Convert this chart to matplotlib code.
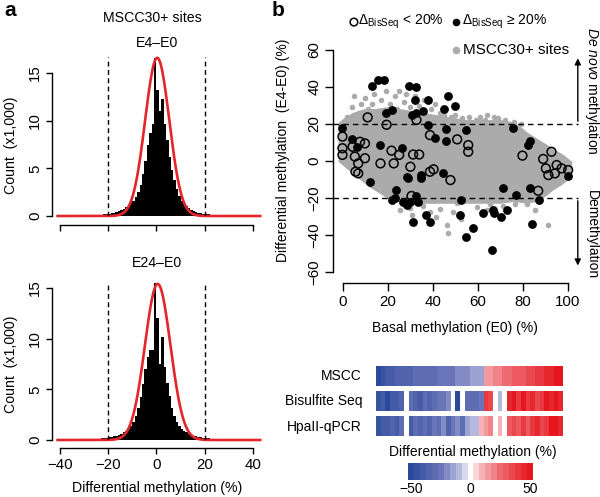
import numpy as np
import matplotlib
matplotlib.use("Agg")
import matplotlib.pyplot as plt
from matplotlib.colors import LinearSegmentedColormap, BoundaryNorm

plt.rcParams['font.family'] = ['Liberation Sans', 'DejaVu Sans']
plt.rcParams['mathtext.fontset'] = 'custom'
plt.rcParams['mathtext.rm'] = 'Liberation Sans'
plt.rcParams['mathtext.it'] = 'Liberation Sans:italic'
plt.rcParams['mathtext.bf'] = 'Liberation Sans:bold'

# ---------------- data ----------------
hist_edges = list(range(-30, 31))
# E4-E0 counts (x1,000) for bins [-30,-29) ... [29,30)
hist_e4 = [0.05, 0.05, 0.06, 0.07, 0.08, 0.10, 0.12, 0.14, 0.17, 0.20,
           0.25, 0.30, 0.35, 0.42, 0.50, 0.60, 0.72, 0.90, 1.10, 1.35,
           1.60, 2.00, 2.50, 3.30, 4.40, 5.80, 7.40, 8.70, 9.60, 16.6,
           13.2, 11.0, 12.3, 9.6, 8.0, 6.2, 4.8, 3.8, 2.8, 2.1,
           1.60, 1.25, 1.00, 0.80, 0.65, 0.52, 0.42, 0.35, 0.30, 0.25,
           0.20, 0.17, 0.14, 0.12, 0.10, 0.08, 0.07, 0.06, 0.05, 0.05]
hist_e24 = [0.05, 0.06, 0.07, 0.08, 0.09, 0.11, 0.13, 0.15, 0.18, 0.21,
            0.25, 0.30, 0.36, 0.43, 0.52, 0.62, 0.75, 0.90, 1.10, 1.40,
            1.80, 2.40, 3.20, 4.20, 5.50, 7.00, 8.20, 8.90, 8.90, 15.5,
            12.0, 7.5, 10.2, 7.2, 5.6, 4.3, 3.2, 2.4, 1.8, 1.4,
            1.10, 0.90, 0.75, 0.60, 0.50, 0.42, 0.35, 0.30, 0.25, 0.21,
            0.18, 0.15, 0.13, 0.11, 0.09, 0.08, 0.07, 0.06, 0.05, 0.05]
# normal fits (mean, sd, peak in x1,000)
fit_e4 = (0.3, 5.0, 16.6)
fit_e24 = (0.5, 5.3, 15.4)

# scatter: gray dense cloud outline (basal, diff)
cloud_x = [-1, 2, 5, 10, 15, 20, 25, 30, 35, 40, 45, 50, 55, 60, 65, 70, 75, 78, 82, 86, 90, 94, 98, 101,
           101, 100, 97, 93, 90, 86, 82, 76, 70, 60, 50, 40, 30, 24, 20, 16, 12, 8, 4, 1, -1]
cloud_y = [20, 23, 25, 27, 27, 28, 27, 26, 25, 24, 23, 22, 21, 21, 21, 21, 20, 18, 14, 11, 8, 5, 2, -1,
           -4, -9, -12, -15, -18, -21, -22, -21, -22, -22, -22, -22, -22, -21, -19, -16, -13, -9, -5, -2, 0]
gray_x = [2, 4, 5, 7, 8, 10, 11, 13, 14, 16, 17, 19, 21, 23, 24, 25, 27, 28, 30, 32, 34, 36, 39, 41, 43, 45,
          48, 50, 53, 56, 59, 63, 67, 69, 72, 76, 79, 61, 64,
          46.1, 46.8, 43.1, 49.0, 52.7, 59.4, 63.9, 65.3, 71.2, 76.4, 81.6, 85.3, 91.3, 25.3, 27.6, 29.8,
          30.5, 35.7, 38.7, 41.3, 32.0, 50.5]
gray_y = [24, 29, 35, 26, 31, 34, 28, 31, 36, 27, 33, 38, 31, 35, 28, 38, 32, 36, 29, 35, 30, 33, 28, 31, 26, 25,
          24, 25, 23, 24, 22, 22, 24, 23, 22, 21, 20, 24, 25,
          -34.6, -38.7, -26.1, -27.5, -31.4, -25.1, -26.4, -23.3, -24.5, -23.3, -23.3, -26.4, -34.5, -26.4,
          -23.6, -25.4, -29.0, -24.3, -27.3, -30.0, -22.0, -22.7]
open_x = [-0.2, -0.2, -0.2, 4.3, 5.3, 5.6, 6.8, 7.6, 9.8, 6.8, 9.8, 16.7, 21.6, 22.6, 25.0, 30.0, 31.2, 33.9,
          30.5, 38.7, 40.3, 38.7, 47.8, 50.8, 55.7, 55.7, 79.8, 89.0, 90.2, 91.3, 92.7, 95.0, 97.2, 94.2,
          100.1, 86.8, 19.4, 11.0, 32.7]
open_y = [13.2, 6.9, 3.3, 7.7, 2.4, -5.8, -6.7, 10.4, 9.5, -1.3, 1.5, -1.3, 5.6, -1.3, 3.3, -3.1, 3.5, 3.5,
          -18.9, -5.8, -4.5, 14.0, -10.3, 11.7, 8.6, 5.0, 2.9, 1.1, -4.0, -7.6, 5.0, -2.2, -4.0, -6.7,
          -4.9, -16.1, 19.6, 23.6, 22.2]
black_x = [-0.2, 4.0, 6.1, 12.0, 16.7, 26.1, 23.6, 21.6, 23.1, 26.8, 28.3, 29.0, 28.5, 29.8, 32.7, 33.5,
           34.9, 34.7, 31.3, 36.9, 38.7, 38.0, 40.9, 44.6, 45.8, 45.8, 54.9, 52.3, 52.0, 54.7, 58.0, 62.1,
           66.9, 67.1, 66.1, 70.1, 71.3, 73.0, 75.4, 76.9, 82.4, 83.1, 83.1, 83.9, 87.2, 100.1,
           12.9, 15.4, 18.4, 19.0, 21.6, 29.3, 32.7, 31.9, 30.7, 32.7, 35.4, 37.9, 45.0, 46.5, 50.0]
black_y = [17.7, 11.9, 7.8, -11.5, 8.6, 6.8, -15.7, -21.1, -20.2, -22.0, -8.5, -9.4, -23.8, -22.0, -18.9, -22.0,
           -7.6, -9.4, -32.8, -29.2, -32.8, 19.5, 12.3, -6.3, 17.1, 11.0, 16.8, -21.1, -29.2, -40.9, -36.4, -28.3,
           -26.5, -28.3, -48.1, -30.1, -14.8, -26.5, 17.7, -18.4, 8.6, 10.9, -14.8, -34.3, -21.1, -8.1,
           40.5, 43.8, 43.8, 26.0, 27.6, 40.5, 39.8, 33.0, 24.9, 26.0, 27.0, 33.0, 28.0, 35.1, 29.7]

# heatmap rows
row_labels = ['MSCC', 'Bisulfite Seq', 'HpaII-qPCR']
mscc = [-52, -45, -40, -38, -36, -35, -34, -33, -32, -31, -30, -29, -28, -27, -26, -25, -24, -22, -21, -20,
        -16, -15, -14, 14, 16, 18, 20, 23, 26, 28, 30, 32, 34, 36, 38, 41, 44, 47, 50, 52]
bisseq = [-45, -40, -48, -38, -42, -36, 0, -30, -34, -40, -28, -36, -30, -26, -25, -20, 0, -50, 0, -32,
          -30, -28, -25, 40, 35, 0, -8, 0, 45, 48, 40, 50, 38, 44, 36, 42, 48, 44, 50, 46]
hpaii = [-45, -38, -42, -35, -40, -32, 0, -38, -30, -34, -28, -36, -25, -30, -22, -34, -26, -20, -28, -15,
         -12, -8, 10, 15, 20, 0, 12, 0, 30, 35, 28, 40, 32, 38, 45, 36, 42, 48, 50, 46]
cbar_values = list(range(-50, 55, 5))
cbar_ticks = [-50, 0, 50]

# ---------------- helpers ----------------
W, H = 600, 497
fig = plt.figure(figsize=(W / 100, H / 100), dpi=100)


def box(x0, x1, ytop, ybot):
    return [x0 / W, 1 - ybot / H, (x1 - x0) / W, (ybot - ytop) / H]


def ftext(x, y, s, **kw):
    fig.text(x / W, 1 - y / H, s, **kw)


FS = 10.2
FT = 10.8
RED = '#e3262b'

# ---------------- panel a ----------------
def hist_panel(rect, counts, fit, ytop, labels_on, dash_top, bottom_out):
    ax = fig.add_axes(rect)
    ax.stairs(counts, hist_edges, fill=True, color='black', lw=0)
    xs = np.linspace(-41, 43, 400)
    m, s, p = fit
    ax.plot(xs, p * np.exp(-0.5 * ((xs - m) / s) ** 2), color=RED, lw=1.9, clip_on=False)
    for xv in (-20, 20):
        ax.plot([xv, xv], [0, dash_top], color='black', lw=1.0, dashes=(3.5, 2.5))
    ax.set_xlim(-42, 43.5)
    ax.set_ylim(0, ytop)
    for sp in ('top', 'right'):
        ax.spines[sp].set_visible(False)
    ax.spines['left'].set_bounds(0, 15)
    ax.spines['left'].set_position(('outward', 2.3))
    ax.spines['bottom'].set_bounds(-40, 40)
    ax.spines['bottom'].set_position(('outward', bottom_out))
    for sp in ('left', 'bottom'):
        ax.spines[sp].set_linewidth(1.0)
    ax.set_yticks([0, 5, 10, 15])
    ax.set_xticks([-40, -20, 0, 20, 40])
    ax.tick_params(length=4, width=1.0, labelsize=FT, pad=3)
    ax.set_yticklabels(['0', '5', '10', '15'], rotation=90, va='center')
    if labels_on:
        ax.set_xticklabels(['\u221240', '\u221220', '0', '20', '40'])
    else:
        ax.set_xticklabels([])
    return ax


ax1 = hist_panel(box(55.2, 261.4, 49.2, 216), hist_e4, fit_e4, 17.5, False, 16.7, 6.5)
ax2 = hist_panel(box(55.2, 261.4, 274.8, 440), hist_e24, fit_e24, 16.3, True, 15.6, 5.8)

ftext(4, 11, 'a', fontsize=15, fontweight='bold', va='center', ha='left')
ftext(152, 18, 'MSCC30+ sites', fontsize=FS, ha='center', va='center')
ftext(157, 43, 'E4\u2013E0', fontsize=FS, ha='center', va='center')
ftext(157, 263, 'E24\u2013E0', fontsize=FS, ha='center', va='center')
ftext(11, 145, 'Count  (x1,000)', fontsize=FS, rotation=90, ha='center', va='center')
ftext(11, 364, 'Count  (x1,000)', fontsize=FS, rotation=90, ha='center', va='center')
ftext(157, 488, 'Differential methylation (%)', fontsize=FS, ha='center', va='center')

# ---------------- panel b scatter ----------------
ax3 = fig.add_axes(box(333, 581.4, 46.3, 275.7))
GRAY = '#ababab'
ax3.fill(cloud_x, cloud_y, color=GRAY, lw=3, ec=GRAY, joinstyle='round', zorder=1)
ax3.scatter(gray_x, gray_y, s=16, color=GRAY, lw=0, zorder=1)
ax3.scatter(open_x, open_y, s=40, facecolors='none', edgecolors='black', linewidths=1.1, zorder=3)
ax3.scatter(black_x, black_y, s=40, color='black', lw=0, zorder=3)
ax3.set_xlim(-4.4, 106)
ax3.set_ylim(-62, 62)
for sp in ('top', 'right'):
    ax3.spines[sp].set_visible(False)
ax3.spines['left'].set_bounds(-60, 60)
ax3.spines['bottom'].set_bounds(0, 100)
ax3.spines['bottom'].set_position(('outward', 5.3))
for sp in ('left', 'bottom'):
    ax3.spines[sp].set_linewidth(1.0)
ax3.set_xticks([0, 20, 40, 60, 80, 100])
ax3.set_yticks([-60, -40, -20, 0, 20, 40, 60])
ax3.tick_params(length=5.5, width=1.0, labelsize=FT, pad=3)
ax3.set_yticklabels(['\u221260', '\u221240', '\u221220', '0', '20', '40', '60'], rotation=90, va='center')
for yv in (20, -20):
    ax3.plot([-4.4, 104.4], [yv, yv], color='black', lw=1.0, dashes=(4, 3), clip_on=False, zorder=4)
ax3.annotate('', xy=(104.4, 57), xytext=(104.4, 20),
             arrowprops=dict(arrowstyle='-|>', color='black', lw=1.0, mutation_scale=9),
             annotation_clip=False)
ax3.annotate('', xy=(104.4, -58), xytext=(104.4, -20),
             arrowprops=dict(arrowstyle='-|>', color='black', lw=1.0, mutation_scale=9),
             annotation_clip=False)

ftext(272, 11, 'b', fontsize=15, fontweight='bold', va='center', ha='left')
ftext(283, 150, 'Differential methylation  (E4-E0) (%)', fontsize=10, rotation=90,
      ha='center', va='center')
ftext(455, 328, 'Basal methylation (E0) (%)', fontsize=10, ha='center', va='center')
ftext(592, 91, r'$\it{De\ novo}$ methylation', fontsize=10, rotation=270, ha='center', va='center')
ftext(592, 235, 'Demethylation', fontsize=10, rotation=270, ha='center', va='center')

# legend
ax3.scatter([4.9], [75.1], s=30, facecolors='none', edgecolors='black', linewidths=1.1, clip_on=False)
ax3.text(6.6, 75.1, r'$\Delta_{\mathrm{BisSeq}}$ < 20%', fontsize=10, va='center', ha='left')
ax3.scatter([50.2], [75.1], s=30, color='black', lw=0, clip_on=False)
ax3.text(53.0, 75.1, r'$\Delta_{\mathrm{BisSeq}}$' + ' \u2265 20%', fontsize=10, va='center', ha='left')
ax3.scatter([50.2], [60], s=30, color=GRAY, lw=0, clip_on=False)
ax3.text(53.5, 60, 'MSCC30+ sites', fontsize=11, va='center', ha='left')

# ---------------- heatmap ----------------
cmap = LinearSegmentedColormap.from_list(
    'bwr_d', [(0.0, '#2c4a9c'), (0.25, '#6a74b8'), (0.42, '#bfc2e2'), (0.5, '#ffffff'),
              (0.58, '#f7bcc0'), (0.75, '#ee6a70'), (1.0, '#e5161e')], N=21)
bounds = np.arange(-52.5, 57.5, 5)
norm = BoundaryNorm(bounds, 21)
ax4 = fig.add_axes(box(376, 563, 363, 439))
rows = [mscc, bisseq, hpaii]
ncol = len(mscc)
for r, vals in enumerate(rows):
    ax4.pcolormesh(np.arange(ncol + 1), [r + 0.11, r + 0.89], [vals], cmap=cmap, norm=norm)
ax4.set_xlim(0, ncol)
ax4.set_ylim(3, 0)
ax4.axis('off')
for r, lab in enumerate(row_labels):
    ftext(362, 375.7 + 25.5 * r, lab, fontsize=10, ha='right', va='center')

ftext(473, 452, 'Differential methylation (%)', fontsize=10, ha='center', va='center')
ax5 = fig.add_axes(box(408, 533, 463, 480))
ax5.pcolormesh(bounds, [0, 1], [cbar_values], cmap=cmap, norm=norm)
ax5.set_xlim(-52.5, 52.5)
ax5.set_ylim(0, 1)
ax5.axis('off')
for t in cbar_ticks:
    px = 408 + (t + 52.5) / 105 * 125
    ftext(px, 489, ('\u2212' + str(-t)) if t < 0 else str(t), fontsize=10, ha='center', va='center')

fig.savefig('out.png', dpi=100)
